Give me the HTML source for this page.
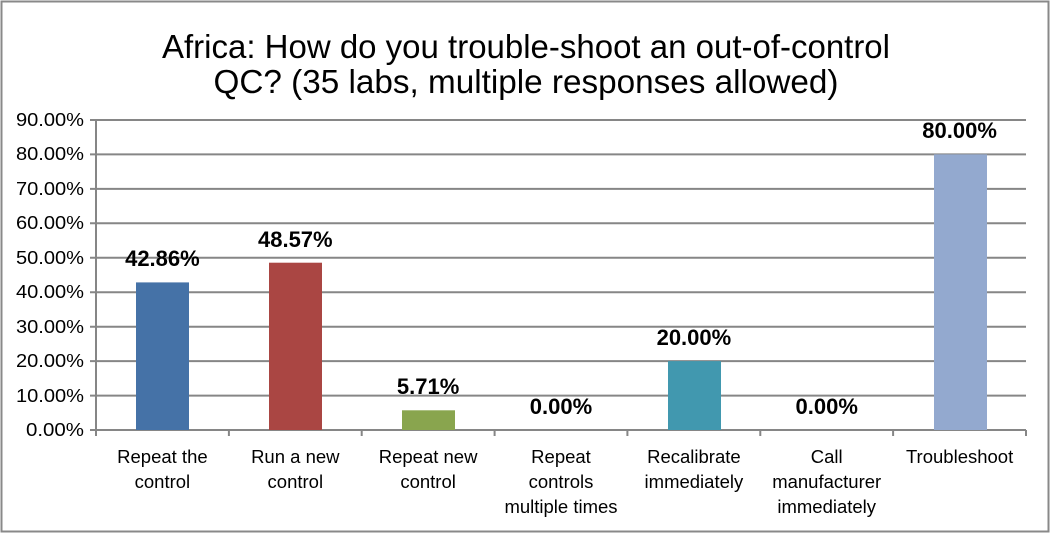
<!DOCTYPE html>
<html><head><meta charset="utf-8"><style>body{margin:0;background:#fff}svg{display:block}</style></head>
<body>
<svg width="1051" height="534" xmlns="http://www.w3.org/2000/svg" font-family="'Liberation Sans', sans-serif">
<rect x="1.5" y="1.5" width="1047" height="530" fill="#fff" stroke="#898989" stroke-width="2"/>
<text x="526" y="58" font-size="33" text-anchor="middle" textLength="728" lengthAdjust="spacingAndGlyphs">Africa: How do you trouble-shoot an out-of-control</text>
<text x="526" y="93" font-size="33" text-anchor="middle" textLength="625" lengthAdjust="spacingAndGlyphs">QC?  (35 labs, multiple responses allowed)</text>
<g stroke="#868686" stroke-width="2">
<line x1="90" y1="120" x2="1026" y2="120"/>
<line x1="90" y1="154.4" x2="1026" y2="154.4"/>
<line x1="90" y1="188.9" x2="1026" y2="188.9"/>
<line x1="90" y1="223.3" x2="1026" y2="223.3"/>
<line x1="90" y1="257.8" x2="1026" y2="257.8"/>
<line x1="90" y1="292.2" x2="1026" y2="292.2"/>
<line x1="90" y1="326.7" x2="1026" y2="326.7"/>
<line x1="90" y1="361.1" x2="1026" y2="361.1"/>
<line x1="90" y1="395.6" x2="1026" y2="395.6"/>
<line x1="90" y1="430" x2="1026" y2="430"/>
<line x1="96" y1="120" x2="96" y2="430"/>
<line x1="96" y1="430" x2="96" y2="436"/><line x1="228.9" y1="430" x2="228.9" y2="436"/><line x1="361.7" y1="430" x2="361.7" y2="436"/><line x1="494.6" y1="430" x2="494.6" y2="436"/><line x1="627.4" y1="430" x2="627.4" y2="436"/><line x1="760.3" y1="430" x2="760.3" y2="436"/><line x1="893.1" y1="430" x2="893.1" y2="436"/><line x1="1026" y1="430" x2="1026" y2="436"/>
</g>
<g font-size="18" text-anchor="end" fill="#000">
<text x="84" y="126" textLength="68" lengthAdjust="spacingAndGlyphs">90.00%</text><text x="84" y="160" textLength="68" lengthAdjust="spacingAndGlyphs">80.00%</text><text x="84" y="195" textLength="68" lengthAdjust="spacingAndGlyphs">70.00%</text><text x="84" y="229" textLength="68" lengthAdjust="spacingAndGlyphs">60.00%</text><text x="84" y="264" textLength="68" lengthAdjust="spacingAndGlyphs">50.00%</text><text x="84" y="298" textLength="68" lengthAdjust="spacingAndGlyphs">40.00%</text><text x="84" y="333" textLength="68" lengthAdjust="spacingAndGlyphs">30.00%</text><text x="84" y="367" textLength="68" lengthAdjust="spacingAndGlyphs">20.00%</text><text x="84" y="402" textLength="68" lengthAdjust="spacingAndGlyphs">10.00%</text><text x="84" y="436" textLength="58" lengthAdjust="spacingAndGlyphs">0.00%</text>
</g>
<rect x="136" y="282.4" width="53" height="147.6" fill="#4572a7"/>
<rect x="269" y="262.7" width="53" height="167.3" fill="#aa4643"/>
<rect x="402" y="410.3" width="53" height="19.7" fill="#89a54e"/>
<rect x="668" y="361.1" width="53" height="68.9" fill="#4198af"/>
<rect x="934" y="154.4" width="53" height="275.6" fill="#93a9cf"/>
<g font-size="22" font-weight="bold" text-anchor="middle">
<text x="162.4" y="266">42.86%</text><text x="295.3" y="247">48.57%</text><text x="428.1" y="394">5.71%</text><text x="561" y="414">0.00%</text><text x="693.9" y="345">20.00%</text><text x="826.7" y="414">0.00%</text><text x="959.6" y="138">80.00%</text>
</g>
<g font-size="18.5" text-anchor="middle">
<text x="162.4" y="463">Repeat the</text><text x="162.4" y="488">control</text>
<text x="295.3" y="463">Run a new</text><text x="295.3" y="488">control</text>
<text x="428.1" y="463">Repeat new</text><text x="428.1" y="488">control</text>
<text x="561" y="463">Repeat</text><text x="561" y="488">controls</text><text x="561" y="513">multiple times</text>
<text x="693.9" y="463">Recalibrate</text><text x="693.9" y="488">immediately</text>
<text x="826.7" y="463">Call</text><text x="826.7" y="488">manufacturer</text><text x="826.7" y="513">immediately</text>
<text x="959.6" y="463">Troubleshoot</text>
</g>
</svg>
</body></html>
